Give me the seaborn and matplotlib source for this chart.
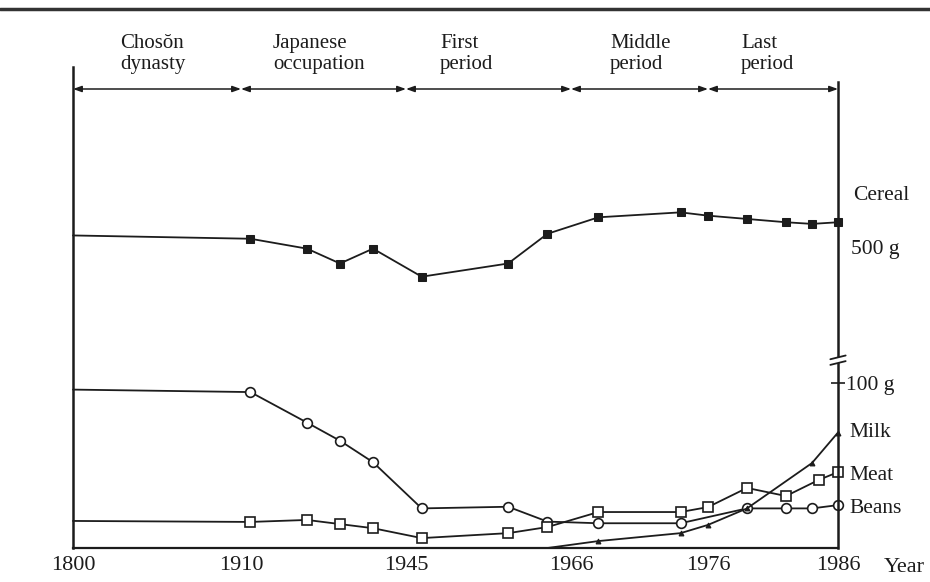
import numpy as np
import matplotlib
matplotlib.use("Agg")
import matplotlib.pyplot as plt
import matplotlib.transforms as mtransforms
from matplotlib.lines import Line2D
from matplotlib.patches import Rectangle
import seaborn as sns

# ---------------- data ----------------
cereal_years = [1800, 1912, 1924, 1931, 1938, 1947, 1958, 1963, 1968, 1974, 1976, 1979, 1982, 1984, 1986]
cereal_grams = [507, 505, 499, 490, 499, 482, 490, 508, 518, 521, 519, 517, 515, 514, 515]

beans_years = [1800, 1912, 1924, 1931, 1938, 1947, 1958, 1963, 1968, 1974, 1979, 1982, 1984, 1986]
beans_grams = [96, 94.5, 76, 65, 52, 24, 25, 16, 15, 15, 24, 24, 24, 26]

meat_years = [1800, 1912, 1924, 1931, 1938, 1947, 1958, 1963, 1968, 1974, 1976, 1979, 1982, 1984.5, 1986]
meat_grams = [16.4, 15.8, 17, 14.5, 12, 6, 9, 12.7, 21.8, 21.8, 24.8, 36.4, 31.5, 41.2, 46]

milk_years = [1963, 1968, 1974, 1976, 1979, 1984, 1986]
milk_grams = [0, 4.2, 9, 14, 24, 51.5, 70]

period_bounds = [1800, 1910, 1945, 1966, 1976, 1986]
period_names = ["Chosŏn\ndynasty", "Japanese\noccupation", "First\nperiod", "Middle\nperiod", "Last\nperiod"]
year_ticks = [1800, 1910, 1945, 1966, 1976, 1986]
year_tick_labels = ["1800", "1910", "1945", "1966", "1976", "1986"]

# ---------------- layout / style ----------------
# non-linear (piecewise) time axis: relative widths of each era on the page
axis_break_years = [1800, 1910, 1945, 1966, 1976, 1986]
axis_break_pos = [0, 168, 333, 498, 635, 765]

INK = "#1c1c1c"
W, H = 930, 582
PX = 0.72  # points per pixel at dpi 100

sns.set_style("white")
plt.rcParams["font.family"] = ["Liberation Serif", "DejaVu Serif"]
plt.rcParams["axes.edgecolor"] = INK
plt.rcParams["text.color"] = INK
plt.rcParams["xtick.color"] = INK
plt.rcParams["ytick.color"] = INK

fig = plt.figure(figsize=(W / 100, H / 100), dpi=100)

left_px, right_px = 73, 838
bot_px, brk_px, top_px = 548, 360, 67
ax_bot = fig.add_axes([left_px / W, 1 - bot_px / H, (right_px - left_px) / W, (bot_px - brk_px) / H])
ax_top = fig.add_axes([left_px / W, 1 - brk_px / H, (right_px - left_px) / W, (brk_px - top_px) / H],
                      sharex=ax_bot)

def fwd(x):
    return np.interp(x, axis_break_years, axis_break_pos)

def inv(p):
    return np.interp(p, axis_break_pos, axis_break_years)

for ax in (ax_bot, ax_top):
    ax.set_facecolor("none")
    ax.set_xscale("function", functions=(fwd, inv))

# y scales: 1.65 px per gram
ppg = 1.65
ax_bot.set_ylim(0, (bot_px - brk_px) / ppg)
ax_top.set_ylim(500 - (brk_px - 247) / ppg, 500 + (247 - top_px) / ppg)
ax_bot.set_xlim(1800, 1986)

line_kw = dict(color=INK, linewidth=1.3, markeredgecolor=INK, clip_on=False)

sns.lineplot(x=cereal_years, y=cereal_grams, ax=ax_top, marker="s", markersize=5.5,
             markerfacecolor=INK, markevery=list(range(1, len(cereal_years))), sort=False, **line_kw)
sns.lineplot(x=beans_years, y=beans_grams, ax=ax_bot, marker="o", markersize=7,
             markerfacecolor="white", markeredgewidth=1.2,
             markevery=list(range(1, len(beans_years))), sort=False, **line_kw)
sns.lineplot(x=meat_years, y=meat_grams, ax=ax_bot, marker="s", markersize=6.5,
             markerfacecolor="white", markeredgewidth=1.2,
             markevery=list(range(1, len(meat_years))), sort=False, **line_kw)
sns.lineplot(x=milk_years, y=milk_grams, ax=ax_bot, marker="^", markersize=3.5,
             markerfacecolor=INK, markevery=list(range(1, len(milk_years))), sort=False, **line_kw)

# ---- spines: one continuous left and right line drawn by the lower axes ----
for side in ("left", "right", "top", "bottom"):
    ax_top.spines[side].set_visible(False)
ax_bot.spines["top"].set_visible(False)
ax_bot.spines["left"].set_linewidth(1.8)
ax_bot.spines["right"].set_linewidth(1.8)
ax_bot.spines["bottom"].set_linewidth(1.6)
ax_bot.spines["left"].set_bounds(0, (bot_px - top_px) / ppg)
ax_bot.spines["right"].set_bounds(0, (bot_px - 82) / ppg)

# ---- x ticks ----
ax_bot.set_xticks(year_ticks)
ax_bot.set_xticklabels(year_tick_labels)
ax_bot.tick_params(axis="x", direction="in", length=6, width=1.2, labelsize=16, pad=6)
ax_top.tick_params(axis="x", bottom=False, labelbottom=False)
for ax in (ax_bot, ax_top):
    ax.set_xlabel("")
    ax.set_ylabel("")

# ---- y ticks on right ----
ax_bot.yaxis.tick_right()
ax_bot.set_yticks([100])
ax_bot.set_yticklabels(["100 g"])
ax_bot.tick_params(axis="y", left=False, right=True, direction="inout", length=10, width=1.2,
                   labelsize=15.5, pad=1)
ax_top.yaxis.tick_right()
ax_top.set_yticks([500])
ax_top.set_yticklabels(["500 g"])
ax_top.tick_params(axis="y", left=False, right=True, length=0, labelsize=15.5, pad=9)

# ---- series labels at right ----
ax_top.annotate("Cereal", xy=(1, 500 + (247 - 195) / ppg), xycoords=("axes fraction", "data"),
                xytext=(15 * PX, 0), textcoords="offset points", va="center", ha="left", fontsize=15.5)
for name, vals, dy in (("Milk", milk_grams, 0), ("Meat", meat_grams, -3), ("Beans", beans_grams, -3)):
    ax_bot.annotate(name, xy=(1, vals[-1]), xycoords=("axes fraction", "data"),
                    xytext=(11 * PX, dy * PX), textcoords="offset points",
                    va="center", ha="left", fontsize=15.5)
ax_bot.annotate("Year", xy=(1, 0), xycoords="axes fraction", xytext=(46 * PX, -20 * PX),
                textcoords="offset points", va="center", ha="left", fontsize=16)

# ---- period arrows and labels ----
trans = mtransforms.blended_transform_factory(ax_top.transData, ax_top.transAxes)
arrow_y = (brk_px - 89) / (brk_px - top_px)
for a, b in zip(period_bounds[:-1], period_bounds[1:]):
    ax_top.annotate("", xy=(b, arrow_y), xytext=(a, arrow_y), xycoords=trans, textcoords=trans,
                    arrowprops=dict(arrowstyle="<|-|>,head_length=0.5,head_width=0.18",
                                    color=INK, lw=1.1, shrinkA=0, shrinkB=0),
                    annotation_clip=False)
label_offsets_px = [47, 32, 34, 39, 33]
label_y = (brk_px - 74) / (brk_px - top_px)
for start, name, off in zip(period_bounds[:-1], period_names, label_offsets_px):
    ax_top.annotate(name, xy=(start, label_y), xycoords=trans, xytext=(off * PX, 0),
                    textcoords="offset points", ha="left", va="bottom", fontsize=15,
                    linespacing=1.12, annotation_clip=False)

# ---- axis break mark on right spine ----
bx = 1.0
ax_bot.add_patch(Rectangle((bx - 0.012, 0.985), 0.024, 0.03, transform=ax_bot.transAxes,
                           facecolor="white", edgecolor="none", clip_on=False, zorder=5))
for yy in (0.982, 1.012):
    ax_bot.plot([bx - 0.01, bx + 0.01], [yy - 0.008, yy + 0.012], transform=ax_bot.transAxes,
                color=INK, lw=1.3, clip_on=False, zorder=6)

# ---- top rule ----
fig.add_artist(Line2D([0, 1], [1 - 9 / H, 1 - 9 / H], transform=fig.transFigure, color="#333333", lw=2.5))

fig.savefig("out.png", dpi=100)
